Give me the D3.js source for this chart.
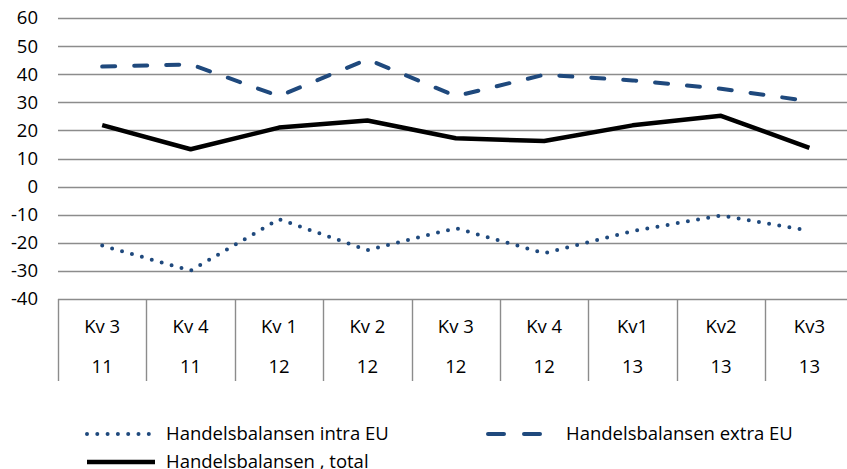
<!DOCTYPE html>
<html>
<head>
<meta charset="utf-8">
<script src="https://cdn.jsdelivr.net/npm/d3@7"></script>
<style>
  body { margin: 0; background: #fff; }
  svg text { font-family: "Open Sans", Lato, sans-serif; fill: #000; }
</style>
</head>
<body>
<div id="chart"></div>
<script>
// Quarter / year labels for the two-row category axis
const quarters = ["Kv 3", "Kv 4", "Kv 1", "Kv 2", "Kv 3", "Kv 4", "Kv1", "Kv2", "Kv3"];
const years = ["11", "11", "12", "12", "12", "12", "13", "13", "13"];

// Series values
const intraEU = [-21.0, -29.9, -11.6, -22.6, -14.8, -23.7, -15.8, -10.3, -15.7];
const extraEU = [42.7, 43.5, 32.2, 45.3, 32.2, 39.8, 37.8, 34.8, 30.4];
const total = [21.9, 13.3, 21.0, 23.5, 17.2, 16.2, 21.8, 25.2, 13.8];

const yTicks = [-40, -30, -20, -10, 0, 10, 20, 30, 40, 50, 60];

const width = 847, height = 469;
const plotLeft = 58, plotRight = 853.6, plotTop = 18, plotBottom = 299;
const axisBottom = 381;
const fontSize = "18.5px";

const svg = d3.select("#chart").append("svg")
    .attr("width", width)
    .attr("height", height);

const idx = d3.range(quarters.length);
const x = d3.scaleBand()
    .domain(idx)
    .range([plotLeft, plotRight]);
const cx = i => x(i) + x.bandwidth() / 2;

const y = d3.scaleLinear()
    .domain([-40, 60])
    .range([plotBottom, plotTop]);

// horizontal gridlines
svg.append("g")
    .selectAll("line")
    .data(yTicks)
    .join("line")
    .attr("x1", plotLeft)
    .attr("x2", plotRight)
    .attr("y1", d => Math.round(y(d)) + 0.5)
    .attr("y2", d => Math.round(y(d)) + 0.5)
    .attr("stroke", "#8c8c8c")
    .attr("stroke-width", 1.4);

// y tick labels
svg.append("g")
    .selectAll("text")
    .data(yTicks)
    .join("text")
    .attr("x", 38)
    .attr("y", d => y(d))
    .attr("dy", "0.35em")
    .attr("text-anchor", "end")
    .style("font-size", fontSize)
    .text(d => d);

// category separators (table-like axis)
svg.append("g")
    .selectAll("line")
    .data(d3.range(quarters.length + 1))
    .join("line")
    .attr("x1", i => Math.round(i < quarters.length ? x(i) : plotRight) + 0.5)
    .attr("x2", i => Math.round(i < quarters.length ? x(i) : plotRight) + 0.5)
    .attr("y1", plotBottom)
    .attr("y2", axisBottom)
    .attr("stroke", "#8c8c8c")
    .attr("stroke-width", 1.4);

svg.append("g")
    .selectAll("text")
    .data(quarters)
    .join("text")
    .attr("x", (d, i) => cx(i))
    .attr("y", 327)
    .attr("dy", "0.35em")
    .attr("text-anchor", "middle")
    .style("font-size", fontSize)
    .text(d => d);

svg.append("g")
    .selectAll("text")
    .data(years)
    .join("text")
    .attr("x", (d, i) => cx(i))
    .attr("y", 367)
    .attr("dy", "0.35em")
    .attr("text-anchor", "middle")
    .style("font-size", fontSize)
    .text(d => d);

// series
const blue = "#1f497d";
const series = [
    { name: "Handelsbalansen intra EU", values: intraEU, color: blue, width: 4, dash: "0,10.3", cap: "round" },
    { name: "Handelsbalansen extra EU", values: extraEU, color: blue, width: 4, dash: "13,19", cap: "round" },
    { name: "Handelsbalansen , total", values: total, color: "#000", width: 4.5, dash: null, cap: "butt" }
];

const line = d3.line()
    .x((d, i) => cx(i))
    .y(d => y(d));

svg.append("g")
    .selectAll("path")
    .data(series)
    .join("path")
    .attr("d", d => line(d.values))
    .attr("fill", "none")
    .attr("stroke", d => d.color)
    .attr("stroke-width", d => d.width)
    .attr("stroke-dasharray", d => d.dash)
    .attr("stroke-linecap", d => d.cap)
    .attr("stroke-linejoin", "round");

// legend
const legendPos = [
    { x: 87, y: 434, len: 68, tx: 166 },
    { x: 488, y: 434, len: 56, tx: 566 },
    { x: 87, y: 462, len: 68, tx: 166 }
];

const legend = svg.append("g")
    .selectAll("g")
    .data(series)
    .join("g")
    .attr("transform", (d, i) => `translate(0,${legendPos[i].y})`);

legend.append("line")
    .attr("x1", (d, i) => legendPos[i].x)
    .attr("x2", (d, i) => legendPos[i].x + legendPos[i].len)
    .attr("y1", 0)
    .attr("y2", 0)
    .attr("stroke", d => d.color)
    .attr("stroke-width", d => d.width)
    .attr("stroke-dasharray", (d, i) => i === 1 ? "16,20" : d.dash)
    .attr("stroke-linecap", d => d.cap);

legend.append("text")
    .attr("x", (d, i) => legendPos[i].tx)
    .attr("y", 0)
    .attr("dy", "0.35em")
    .style("font-size", fontSize)
    .text(d => d.name);
</script>
</body>
</html>
